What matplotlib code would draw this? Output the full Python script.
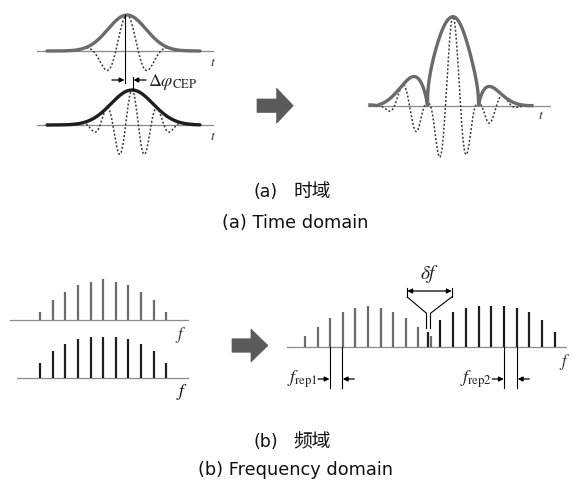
import numpy as np
import matplotlib
matplotlib.use('Agg')
import matplotlib.pyplot as plt
from matplotlib.patches import Polygon

plt.rcParams['font.family'] = ['Noto Sans CJK SC', 'DejaVu Sans']
plt.rcParams['mathtext.fontset'] = 'stix'

# time domain pulses (upper = gray, lower = black)
pulse_center = [127, 132]
pulse_amp = [36, 35]
pulse_sigma = [19, 21]
carrier_period = [45, 25.5]

# superposed pulse (right)
sum_center = 453
sum_amp = 89
sum_null = 25.5          # half distance between the two envelope nulls
sum_sigma = [29.5, 24]   # left / right width
sum_round = [0.4, 0.8]   # flatness of main lobe / side lobes
sum_period = 30
sum_jump = 0.6 * np.pi   # carrier phase step past the nulls

# frequency combs
comb_a = [8.3, 20.3, 28.7, 35, 38.7, 41, 38.7, 35, 28.7, 20.3, 8.3]
comb_b = [15, 27.7, 34.3, 39, 41, 41, 41, 39, 34.3, 27.7, 15]
mix_a = [11.7, 20.7, 29, 35, 39, 41.3, 39, 35, 29, 20.7, 11.7]
mix_b = [15.7, 27.7, 35, 39, 41.3, 41.3, 41.3, 39, 35, 27.7, 15.7]

tags = ['(a)', '(b)']
cn_captions = ['时域', '频域']
en_captions = ['(a) Time domain', '(b) Frequency domain']

GRAY = '#6b6b6b'
DARK = '#1e1e1e'
AXIS = '#8a8a8a'

fig = plt.figure(figsize=(5.72, 4.92), dpi=100)
ax = fig.add_axes([0, 0, 1, 1])
ax.set_xlim(0, 572)
ax.set_ylim(492, 0)
ax.axis('off')


def block_arrow(x0, xh, xt, yc, hs, hh):
    pts = [(x0, yc - hs), (xh, yc - hs), (xh, yc - hh), (xt, yc),
           (xh, yc + hh), (xh, yc + hs), (x0, yc + hs)]
    ax.add_patch(Polygon(pts, closed=True, fc='#5a5a5a', ec='#5a5a5a', lw=0.5))


def small_arrow(x_from, x_to, y):
    ax.annotate('', xy=(x_to, y), xytext=(x_from, y),
                arrowprops=dict(arrowstyle='-|>', lw=0.9, color='k',
                                mutation_scale=7, shrinkA=0, shrinkB=0))


# ---- (a) time domain, left
bases = [51, 125]
env_cols = [GRAY, DARK]
for k in range(2):
    y0 = bases[k]
    ax.plot([37, 213], [y0, y0], color=AXIS, lw=0.9)
    t = np.linspace(47, 200, 600)
    env = pulse_amp[k] * np.exp(-(t - pulse_center[k]) ** 2 / (2 * pulse_sigma[k] ** 2))
    car = env * np.cos(2 * np.pi * (t - pulse_center[k]) / carrier_period[k])
    ax.plot(t, y0 - car, color='#3a3a3a', lw=1.1, ls=(0, (1.3, 1.3)))
    ax.plot(t, y0 - env, color=env_cols[k], lw=2.4, solid_capstyle='round')
    ax.text(213, y0 + 11, '$t$', fontsize=10, ha='center', va='center', color='#333')

ax.plot([125, 125], [15, 83], color='k', lw=0.8)
ax.plot([133, 133], [77, 90], color='k', lw=0.8)
small_arrow(112, 124.5, 80)
small_arrow(146, 133.5, 80)
ax.text(148, 82, r'$\Delta\varphi_{\mathrm{CEP}}$', fontsize=13, ha='left', va='center', color='#222')

block_arrow(257, 276.7, 293.3, 105.7, 6.7, 17.5)

# ---- (a) time domain, right
y0 = 105.7
ax.plot([368, 550], [y0, y0], color=AXIS, lw=0.9)
t = np.linspace(370, 532, 900)
d = t - sum_center
sig = np.where(d < 0, sum_sigma[0], sum_sigma[1])
G = sum_amp * np.exp(-d ** 2 / (2 * sig ** 2))
beat = np.cos(np.pi * d / (2 * sum_null))
inner = np.abs(d) <= sum_null
psi = np.where(inner, 0.0, sum_jump * np.sign(d))
field = G * np.abs(beat) * np.cos(2 * np.pi * d / sum_period + psi)
p = np.where(inner, sum_round[0], sum_round[1])
ax.plot(t, y0 - field, color='#3a3a3a', lw=1.1, ls=(0, (1.3, 1.3)))
ax.plot(t, y0 - G * np.abs(beat) ** p, color=GRAY, lw=2.4)
ax.text(541, 115, '$t$', fontsize=10, ha='center', va='center', color='#333')

# ---- (b) frequency domain, left
sp = 12.63
xs = 40 + sp * np.arange(len(comb_a))
ax.plot([10, 188], [320.3, 320.3], color=AXIS, lw=0.9)
ax.vlines(xs, 320.3, 320.3 - np.array(comb_a), color=GRAY, lw=1.6)
ax.text(181, 335, '$f$', fontsize=12, ha='center', va='center', color='#333')
ax.plot([17, 188], [378.3, 378.3], color=AXIS, lw=0.9)
ax.vlines(xs, 378.3, 378.3 - np.array(comb_b), color=DARK, lw=1.6)
ax.text(182, 392, '$f$', fontsize=12.5, ha='center', va='center', color='k')

block_arrow(232, 251, 268, 345.5, 6.7, 16.5)

# ---- (b) frequency domain, right
yb = 347.3
ax.plot([287, 566], [yb, yb], color=AXIS, lw=0.9)
xa = 305 + 12.6 * np.arange(len(mix_a))
xb = 427.7 + 12.7 * np.arange(len(mix_b))
ax.vlines(xa, yb, yb - np.array(mix_a), color=GRAY, lw=1.6)
ax.vlines(xb, yb, yb - np.array(mix_b), color=DARK, lw=1.6)
ax.text(565, 362, '$f$', fontsize=12, ha='center', va='center', color='#333')

# delta f funnel
ax.plot([407.3, 407.3], [287.5, 297], color='k', lw=0.8)
ax.plot([451.7, 451.7], [287.5, 297], color='k', lw=0.8)
ax.plot([407.3, 426.5, 426.5], [297, 313.3, 328.5], color='k', lw=0.8)
ax.plot([451.7, 430.5, 430.5], [297, 313.3, 328.5], color='k', lw=0.8)
ax.annotate('', xy=(407.3, 291), xytext=(451.7, 291),
            arrowprops=dict(arrowstyle='<|-|>', lw=0.9, color='k',
                            mutation_scale=7, shrinkA=0, shrinkB=0))
ax.text(430, 274, r'$\delta f$', fontsize=14, ha='center', va='center', color='#222')

# repetition rate markers
for xl, xr, lab, xlab in [(330, 342.3, r'$f_{\mathrm{rep1}}$', 302),
                          (504.3, 517.3, r'$f_{\mathrm{rep2}}$', 476)]:
    ax.plot([xl, xl], [yb, 388], color='k', lw=0.8)
    ax.plot([xr, xr], [yb, 388], color='k', lw=0.8)
    small_arrow(xl - 12, xl - 0.5, 379)
    small_arrow(xr + 12, xr + 0.5, 379)
    ax.text(xlab, 379, lab, fontsize=13, ha='center', va='center', color='#222')

# captions
for k, (yc, ye) in enumerate([(192, 223), (442, 470)]):
    ax.text(266, yc, tags[k], fontsize=12.5, ha='center', va='center', color='#111',
            family='DejaVu Sans')
    ax.text(312.5, yc, cn_captions[k], fontsize=13.5, ha='center', va='center', color='#111')
    ax.text(295, ye, en_captions[k], fontsize=12.8, ha='center', va='center', color='#111',
            family='DejaVu Sans')

fig.savefig('out.png', dpi=100)
